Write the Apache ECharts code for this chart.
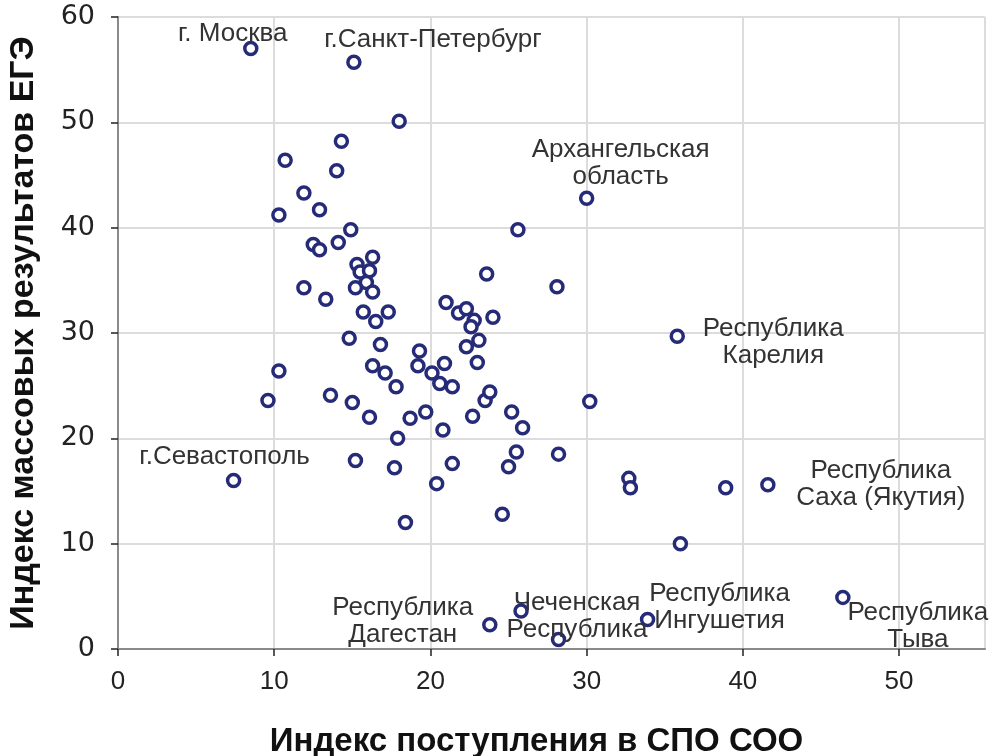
<!DOCTYPE html>
<html>
<head>
	<meta charset="utf-8">
	<title>Индексы ЕГЭ и СПО</title>
	<script src="https://cdn.jsdelivr.net/npm/echarts@6/dist/echarts.min.js"></script>
	<style>
		html, body { margin: 0; padding: 0; background: #fff; }
	</style>
</head>
<body>
	<div id="echart" style="width: 993px; height: 756px"></div>
	<script>
		// индекс поступления в СПО СОО
		let regionX = [8.5, 15.1, 18.0, 14.3, 10.7, 14.0, 11.9, 12.9, 10.3, 14.9,
			25.6, 30.0, 14.1, 12.5, 12.9, 16.3, 15.3, 15.5, 16.1, 15.9,
			11.9, 15.2, 16.3, 13.3, 15.7, 17.3, 16.5, 14.8, 16.8, 16.3,
			17.1, 17.8, 10.3, 9.6, 13.6, 15.0, 16.1, 17.9, 15.2, 17.7,
			18.4, 18.7, 19.7, 20.4, 20.8, 21.4, 22.7, 23.5, 23.8, 25.2,
			25.9, 25.5, 25.0, 24.6, 21.0, 21.8, 22.3, 22.8, 22.6, 24.0,
			23.6, 23.1, 22.3, 19.3, 19.2, 20.9, 23.0, 20.1, 20.6, 21.4,
			28.1, 35.8, 30.2, 28.2, 32.7, 32.8, 38.9, 41.6, 36.0, 25.8,
			28.2, 33.9, 46.4, 23.8, 7.4];
		// индекс массовых результатов ЕГЭ
		let regionY = [57.0, 55.7, 50.1, 48.2, 46.4, 45.4, 43.3, 41.7, 41.2, 39.8,
			39.8, 42.8, 38.6, 38.4, 37.9, 37.2, 36.5, 35.8, 35.9, 34.8,
			34.3, 34.3, 33.9, 33.2, 32.0, 32.0, 31.1, 29.5, 28.9, 26.9,
			26.2, 24.9, 26.4, 23.6, 24.1, 23.4, 22.0, 20.0, 17.9, 17.2,
			12.0, 21.9, 22.5, 15.7, 20.8, 17.6, 22.1, 23.6, 24.4, 22.5,
			21.0, 18.7, 17.3, 12.8, 32.9, 31.9, 32.3, 31.2, 30.6, 31.5,
			35.6, 29.3, 28.7, 28.3, 26.9, 27.1, 27.2, 26.2, 25.2, 24.9,
			34.4, 29.7, 23.5, 18.5, 16.2, 15.3, 15.3, 15.6, 10.0, 3.6,
			0.9, 2.8, 4.9, 2.3, 16.0];
		// подписи отдельных регионов (по индексу точки)
		let regionNames = {
			0: 'г. Москва',
			1: 'г.Санкт-Петербург',
			11: 'Архангельская\nобласть',
			71: 'Республика\nКарелия',
			77: 'Республика\nСаха (Якутия)',
			79: 'Чеченская\nРеспублика',
			81: 'Республика\nИнгушетия',
			82: 'Республика\nТыва',
			83: 'Республика\nДагестан',
			84: 'г.Севастополь'
		};
		let xTicks = [0, 10, 20, 30, 40, 50];
		let yTicks = [0, 10, 20, 30, 40, 50, 60];

		// смещения подписей от центра точки, px
		let labelOffset = {
			0: [-18, -15],
			1: [79, -22],
			11: [34, -35],
			71: [96, 6],
			77: [113, 0],
			79: [56, 5],
			81: [72, -12],
			82: [75, 29],
			83: [-87, -3],
			84: [-9, -24]
		};

		let sans = "'Liberation Sans', Arial, sans-serif";

		let points = regionX.map(function(x, i) {
			let item = { value: [x, regionY[i]] };
			if (regionNames[i]) {
				item.label = {
					show: true,
					formatter: regionNames[i],
					position: 'inside',
					offset: labelOffset[i],
					align: 'center',
					verticalAlign: 'middle',
					color: '#333',
					fontFamily: sans,
					fontSize: 26,
					lineHeight: 27
				};
			}
			return item;
		});

		let mychart = echarts.init(document.getElementById('echart'));
		let option = {
			animation: false,
			backgroundColor: '#fff',
			grid: {
				left: 118,
				right: 8,
				top: 17,
				bottom: 107,
				containLabel: false,
				outerBoundsMode: 'none'
			},
			xAxis: {
				type: 'value',
				min: 0,
				max: 55.5,
				interval: 10,
				offset: 8,
				name: 'Индекс поступления в СПО СОО',
				nameLocation: 'middle',
				nameGap: 68,
				nameTextStyle: {
					fontFamily: sans,
					fontWeight: 'bold',
					fontSize: 33,
					color: '#111',
					padding: [0, 30, 0, 0]
				},
				axisLine: { show: true, lineStyle: { color: '#8a8a8a', width: 2 } },
				axisTick: { show: true, length: 7, lineStyle: { color: '#222', width: 1.5 } },
				axisLabel: {
					showMaxLabel: false,
					margin: 12,
					fontFamily: sans,
					fontSize: 26,
					color: '#222',
					formatter: function(v) { return xTicks.indexOf(v) >= 0 ? String(v) : ''; }
				},
				splitLine: { show: true, lineStyle: { color: '#dcdcdc', width: 2 } }
			},
			yAxis: {
				type: 'value',
				min: 0,
				max: 60,
				interval: 10,
				offset: 9,
				name: 'Индекс массовых результатов ЕГЭ',
				nameLocation: 'middle',
				nameGap: 68,
				nameTextStyle: {
					fontFamily: sans,
					fontWeight: 'bold',
					fontSize: 34,
					color: '#111'
				},
				axisLine: { show: true, lineStyle: { color: '#8a8a8a', width: 2 } },
				axisTick: { show: true, length: 7, lineStyle: { color: '#222', width: 1.5 } },
				axisLabel: {
					margin: 14,
					fontFamily: "'DejaVu Sans', sans-serif",
					fontSize: 27,
					color: '#222',
					formatter: function(v) { return yTicks.indexOf(v) >= 0 ? String(v) : ''; }
				},
				splitLine: { show: true, lineStyle: { color: '#dcdcdc', width: 2 } }
			},
			series: [{
				type: 'scatter',
				symbol: 'circle',
				symbolSize: 12,
				itemStyle: {
					color: '#ffffff',
					borderColor: '#262b78',
					borderWidth: 3.5,
					opacity: 1
				},
				data: points
			}]
		};
		mychart.setOption(option);
	</script>
</body>
</html>
